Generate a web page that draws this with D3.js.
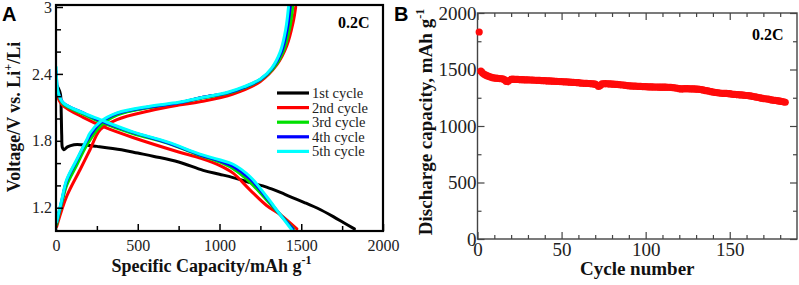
<!DOCTYPE html>
<html>
<head>
<meta charset="utf-8">
<script src="https://cdn.jsdelivr.net/npm/d3@7"></script>
<style>
  body { margin: 0; background: #fff; }
  svg { display: block; }
  .axis-title { font-family: "Liberation Serif", serif; font-weight: bold; fill: #111; }
  .panel-tag { font-family: "Liberation Sans", Arial, sans-serif; font-weight: bold; font-size: 20px; }
</style>
</head>
<body>
<svg id="chart" width="799" height="285"></svg>
<script>
const SERIF = "'Liberation Serif', 'Times New Roman', serif";

// ---- Panel A: voltage profiles, [capacity mAh/g, voltage V] pairs ----
const cycleNames = ["1st cycle", "2nd cycle", "3rd cycle", "4th cycle", "5th cycle"];
const cycleColors = ["#000000", "#ff0000", "#00e000", "#0000ff", "#00ffff"];

const discharge1 = [[3, 2.30], [15, 2.27], [27, 2.22], [32, 2.05], [35, 1.85], [39, 1.74], [48, 1.72], [70, 1.745], [110, 1.765], [160, 1.765], [250, 1.75], [400, 1.72], [500, 1.69], [600, 1.66], [750, 1.61], [900, 1.535], [1000, 1.50], [1083, 1.47], [1200, 1.42], [1288, 1.385], [1400, 1.32], [1529, 1.24], [1600, 1.195], [1696, 1.12], [1760, 1.065], [1825, 1.01]];
const discharge2 = [[4, 2.28], [8, 2.20], [40, 2.12], [166, 2.01], [300, 1.92], [470, 1.83], [750, 1.70], [880, 1.645], [1000, 1.58], [1083, 1.51], [1186, 1.36], [1288, 1.22], [1370, 1.14], [1473, 1.01]];
const discharge3 = [[2, 2.40], [10, 2.24], [44, 2.13], [166, 2.04], [270, 1.97], [470, 1.865], [680, 1.78], [880, 1.67], [1000, 1.61], [1083, 1.55], [1186, 1.43], [1288, 1.27], [1370, 1.14], [1452, 1.01]];
const discharge4 = [[2, 2.42], [12, 2.24], [44, 2.14], [166, 2.05], [270, 1.98], [470, 1.875], [680, 1.785], [880, 1.675], [1000, 1.62], [1083, 1.57], [1186, 1.46], [1288, 1.29], [1370, 1.14], [1448, 1.01]];
const discharge5 = [[1, 2.46], [14, 2.23], [44, 2.14], [166, 2.05], [270, 1.99], [470, 1.88], [680, 1.79], [880, 1.68], [1000, 1.63], [1083, 1.59], [1186, 1.48], [1288, 1.30], [1370, 1.14], [1443, 1.0]];

const charge1 = [[4, 1.06], [35, 1.25], [65, 1.43], [126, 1.61], [188, 1.79], [270, 1.95], [373, 2.04], [575, 2.10], [750, 2.14], [900, 2.19], [1050, 2.23], [1150, 2.28], [1250, 2.35], [1325, 2.45], [1385, 2.60], [1420, 2.80], [1440, 3.0]];
const charge2 = [[4, 1.03], [65, 1.30], [147, 1.54], [208, 1.72], [270, 1.90], [373, 1.99], [575, 2.07], [750, 2.12], [880, 2.15], [1083, 2.22], [1248, 2.33], [1350, 2.48], [1411, 2.65], [1450, 2.86], [1466, 3.0]];
const charge3 = [[4, 1.05], [35, 1.24], [65, 1.40], [126, 1.58], [188, 1.76], [270, 1.93], [373, 2.03], [575, 2.10], [750, 2.14], [900, 2.185], [1050, 2.225], [1150, 2.275], [1250, 2.345], [1330, 2.45], [1390, 2.60], [1428, 2.80], [1448, 3.0]];
const charge4 = [[4, 1.07], [35, 1.26], [65, 1.44], [126, 1.62], [188, 1.80], [270, 1.96], [373, 2.045], [575, 2.105], [750, 2.14], [900, 2.19], [1050, 2.23], [1150, 2.28], [1250, 2.35], [1322, 2.45], [1380, 2.60], [1414, 2.80], [1432, 3.0]];
const charge5 = [[4, 1.075], [35, 1.27], [65, 1.45], [126, 1.63], [188, 1.81], [208, 1.87], [270, 1.97], [373, 2.05], [575, 2.11], [750, 2.145], [900, 2.19], [1050, 2.235], [1150, 2.285], [1250, 2.355], [1318, 2.45], [1372, 2.60], [1405, 2.80], [1422, 3.0]];

const dischargeCurves = [discharge1, discharge2, discharge3, discharge4, discharge5];
const chargeCurves = [charge1, charge2, charge3, charge4, charge5];

const capTicks = [0, 500, 1000, 1500, 2000];
const capMinorTicks = [250, 750, 1250, 1750];
const voltTicks = [1.2, 1.8, 2.4, 3.0];
const voltMinorTicks = [1.4, 1.6, 2.0, 2.2, 2.6, 2.8];

// ---- Panel B: discharge capacity (mAh/g) for cycles 1..183 ----
const cycleCapacity = [
  1832, 1485, 1468, 1458, 1450, 1443, 1437, 1432, 1428, 1425,
  1423, 1421, 1420, 1418, 1417, 1410, 1395, 1393, 1404, 1412,
  1414, 1413, 1412, 1412, 1411, 1410, 1410, 1409, 1408, 1408,
  1407, 1406, 1406, 1405, 1404, 1404, 1403, 1402, 1402, 1401,
  1400, 1399, 1399, 1398, 1397, 1396, 1395, 1394, 1393, 1392,
  1391, 1390, 1390, 1389, 1388, 1387, 1386, 1385, 1384, 1383,
  1380, 1379, 1378, 1378, 1377, 1376, 1375, 1374, 1372, 1370,
  1362, 1350, 1358, 1372, 1374, 1375, 1374, 1373, 1372, 1371,
  1370, 1369, 1368, 1366, 1364, 1363, 1362, 1360, 1358, 1356,
  1355, 1354, 1353, 1352, 1351, 1350, 1350, 1349, 1348, 1348,
  1347, 1347, 1346, 1346, 1345, 1345, 1345, 1344, 1344, 1344,
  1344, 1344, 1343, 1343, 1342, 1340, 1338, 1336, 1334, 1330,
  1328, 1329, 1330, 1330, 1330, 1329, 1329, 1328, 1328, 1327,
  1326, 1325, 1322, 1319, 1316, 1313, 1310, 1307, 1304, 1301,
  1298, 1296, 1294, 1292, 1290, 1289, 1288, 1288, 1287, 1286,
  1282, 1280, 1279, 1278, 1277, 1276, 1275, 1274, 1272, 1270,
  1268, 1266, 1264, 1261, 1258, 1255, 1252, 1249, 1246, 1243,
  1241, 1239, 1237, 1234, 1231, 1228, 1226, 1224, 1222, 1220,
  1217, 1214, 1210
];
const cycleTicks = [0, 50, 100, 150];
const cycleMinorTicks = [10, 20, 30, 40, 60, 70, 80, 90, 110, 120, 130, 140, 160, 170, 180];
const capBTicks = [0, 500, 1000, 1500, 2000];
const capBMinorTicks = [250, 750, 1250, 1750];

const svg = d3.select("#chart");

// ================= Panel A =================
const A = { left: 56, right: 383, top: 7, bottom: 231 };

const xA = d3.scaleLinear().domain([0, 2000]).range([A.left, A.right]);
const yA = d3.scaleLinear().domain([1.0, 3.0]).range([230, A.top]);

const gA = svg.append("g");

const lineA = d3
  .line()
  .curve(d3.curveCatmullRom.alpha(0.5))
  .x((d) => xA(d[0]))
  .y((d) => yA(d[1]));

gA.append("defs")
  .append("clipPath")
  .attr("id", "clipA")
  .append("rect")
  .attr("x", A.left)
  .attr("y", A.top - 4)
  .attr("width", A.right - A.left)
  .attr("height", A.bottom - A.top + 4);

const curves = gA.append("g").attr("clip-path", "url(#clipA)");
cycleNames.forEach((name, i) => {
  [dischargeCurves[i], chargeCurves[i]].forEach((pts) => {
    curves
      .append("path")
      .datum(pts)
      .attr("d", lineA)
      .attr("fill", "none")
      .attr("stroke", cycleColors[i])
      .attr("stroke-width", 3)
      .attr("stroke-linejoin", "round")
      .attr("stroke-linecap", "round");
  });
});

function styleAxis(g, color, width, size) {
  g.attr("font-family", SERIF).attr("font-size", size || 10);
  g.select(".domain").remove();
  g.selectAll(".tick line").attr("stroke", color).attr("stroke-width", width);
  g.selectAll(".tick text").attr("fill", "#222");
}

// axes (ticks point inward)
gA.append("g")
  .attr("transform", `translate(0,${A.bottom})`)
  .call(d3.axisBottom(xA).tickValues(capTicks).tickSize(-7).tickPadding(9).tickFormat(d3.format("d")))
  .call((g) => styleAxis(g, "#000", 1.5, 16));

gA.append("g")
  .attr("transform", `translate(0,${A.bottom})`)
  .call(d3.axisBottom(xA).tickValues(capMinorTicks).tickSize(-5).tickFormat(""))
  .call((g) => styleAxis(g, "#000", 1.5));

gA.append("g")
  .attr("transform", `translate(${A.left},0)`)
  .call(d3.axisLeft(yA).tickValues(voltTicks).tickSize(-7).tickPadding(4).tickFormat((d) => (d === 3 ? "3" : d3.format(".1f")(d))))
  .call((g) => styleAxis(g, "#000", 1.5, 16));

gA.append("g")
  .attr("transform", `translate(${A.left},0)`)
  .call(d3.axisLeft(yA).tickValues(voltMinorTicks).tickSize(-5).tickFormat(""))
  .call((g) => styleAxis(g, "#000", 1.5));

gA.append("rect")
  .attr("x", A.left)
  .attr("y", A.top - 2)
  .attr("width", A.right - A.left)
  .attr("height", A.bottom - A.top + 2)
  .attr("fill", "none")
  .attr("stroke", "#000")
  .attr("stroke-width", 2.2);

// legend
const legend = gA.append("g").attr("transform", "translate(277,93)");
cycleNames.forEach((name, i) => {
  const row = legend.append("g").attr("transform", `translate(0,${i * 14.6})`);
  row.append("line")
    .attr("x1", 0).attr("x2", 32)
    .attr("stroke", cycleColors[i])
    .attr("stroke-width", 3.2);
  row.append("text")
    .attr("x", 35)
    .attr("y", 5)
    .attr("font-family", SERIF)
    .attr("font-size", 14.5)
    .attr("fill", "#222")
    .text(name);
});

gA.append("text")
  .attr("x", 338)
  .attr("y", 28)
  .attr("font-family", SERIF)
  .attr("font-weight", "bold")
  .attr("font-size", 16)
  .text("0.2C");

const xTitleA = gA.append("text")
  .attr("class", "axis-title")
  .attr("x", (A.left + A.right) / 2 - 8)
  .attr("y", 272)
  .attr("text-anchor", "middle")
  .attr("font-size", 18);
xTitleA.append("tspan").text("Specific Capacity/mAh g");
xTitleA.append("tspan").attr("font-size", 12).attr("dy", -8).text("-1");

const yTitleA = gA.append("text")
  .attr("class", "axis-title")
  .attr("transform", "translate(20,117) rotate(-90)")
  .attr("text-anchor", "middle")
  .attr("font-size", 18);
yTitleA.append("tspan").text("Voltage/V vs. Li");
yTitleA.append("tspan").attr("font-size", 12).attr("dy", -8).text("+");
yTitleA.append("tspan").attr("dy", 8).text("/Li");

svg.append("text").attr("class", "panel-tag").attr("x", 2).attr("y", 21).text("A");

// ================= Panel B =================
const B = { left: 477.5, right: 797, top: 13, bottom: 239 };

const xB = d3.scaleLinear().domain([0, 190]).range([B.left, B.right]);
const yB = d3.scaleLinear().domain([0, 2000]).range([B.bottom, B.top]);

const gB = svg.append("g");

const frameColor = "#444";

function innerTicks(axis, values, size, fmt) {
  return axis.tickValues(values).tickSize(-size).tickFormat(fmt || "");
}

// bottom
gB.append("g")
  .attr("transform", `translate(0,${B.bottom})`)
  .call(innerTicks(d3.axisBottom(xB), cycleTicks, 7, d3.format("d")).tickPadding(3))
  .call((g) => styleAxis(g, frameColor, 1.2, 19));
gB.append("g")
  .attr("transform", `translate(0,${B.bottom})`)
  .call(innerTicks(d3.axisBottom(xB), cycleMinorTicks, 4))
  .call((g) => styleAxis(g, frameColor, 1.2));
// top
gB.append("g")
  .attr("transform", `translate(0,${B.top})`)
  .call(innerTicks(d3.axisTop(xB), cycleTicks, 7))
  .call((g) => styleAxis(g, frameColor, 1.2));
gB.append("g")
  .attr("transform", `translate(0,${B.top})`)
  .call(innerTicks(d3.axisTop(xB), cycleMinorTicks, 4))
  .call((g) => styleAxis(g, frameColor, 1.2));
// left
gB.append("g")
  .attr("transform", `translate(${B.left},0)`)
  .call(innerTicks(d3.axisLeft(yB), capBTicks, 7, d3.format("d")).tickPadding(1))
  .call((g) => styleAxis(g, frameColor, 1.2, 19));
gB.append("g")
  .attr("transform", `translate(${B.left},0)`)
  .call(innerTicks(d3.axisLeft(yB), capBMinorTicks, 4))
  .call((g) => styleAxis(g, frameColor, 1.2));
// right
gB.append("g")
  .attr("transform", `translate(${B.right},0)`)
  .call(innerTicks(d3.axisRight(yB), capBTicks, 7))
  .call((g) => styleAxis(g, frameColor, 1.2));
gB.append("g")
  .attr("transform", `translate(${B.right},0)`)
  .call(innerTicks(d3.axisRight(yB), capBMinorTicks, 4))
  .call((g) => styleAxis(g, frameColor, 1.2));

gB.append("rect")
  .attr("x", B.left)
  .attr("y", B.top)
  .attr("width", B.right - B.left)
  .attr("height", B.bottom - B.top)
  .attr("fill", "none")
  .attr("stroke", frameColor)
  .attr("stroke-width", 1.4);

gB.append("g")
  .selectAll("circle")
  .data(cycleCapacity)
  .join("circle")
  .attr("cx", (d, i) => xB(i + 1))
  .attr("cy", (d) => yB(d))
  .attr("r", 3.6)
  .attr("fill", "#ff0a0a");

gB.append("text")
  .attr("x", 752)
  .attr("y", 40)
  .attr("font-family", SERIF)
  .attr("font-weight", "bold")
  .attr("font-size", 16)
  .text("0.2C");

gB.append("text")
  .attr("class", "axis-title")
  .attr("x", (B.left + B.right) / 2)
  .attr("y", 275)
  .attr("text-anchor", "middle")
  .attr("font-size", 19)
  .text("Cycle number");

const yTitleB = gB.append("text")
  .attr("class", "axis-title")
  .attr("transform", "translate(432,122) rotate(-90)")
  .attr("text-anchor", "middle")
  .attr("font-size", 19);
yTitleB.append("tspan").text("Discharge capacity, mAh g");
yTitleB.append("tspan").attr("font-size", 12).attr("dy", -8).text("-1");

svg.append("text").attr("class", "panel-tag").attr("x", 394).attr("y", 21).text("B");
</script>
</body>
</html>
